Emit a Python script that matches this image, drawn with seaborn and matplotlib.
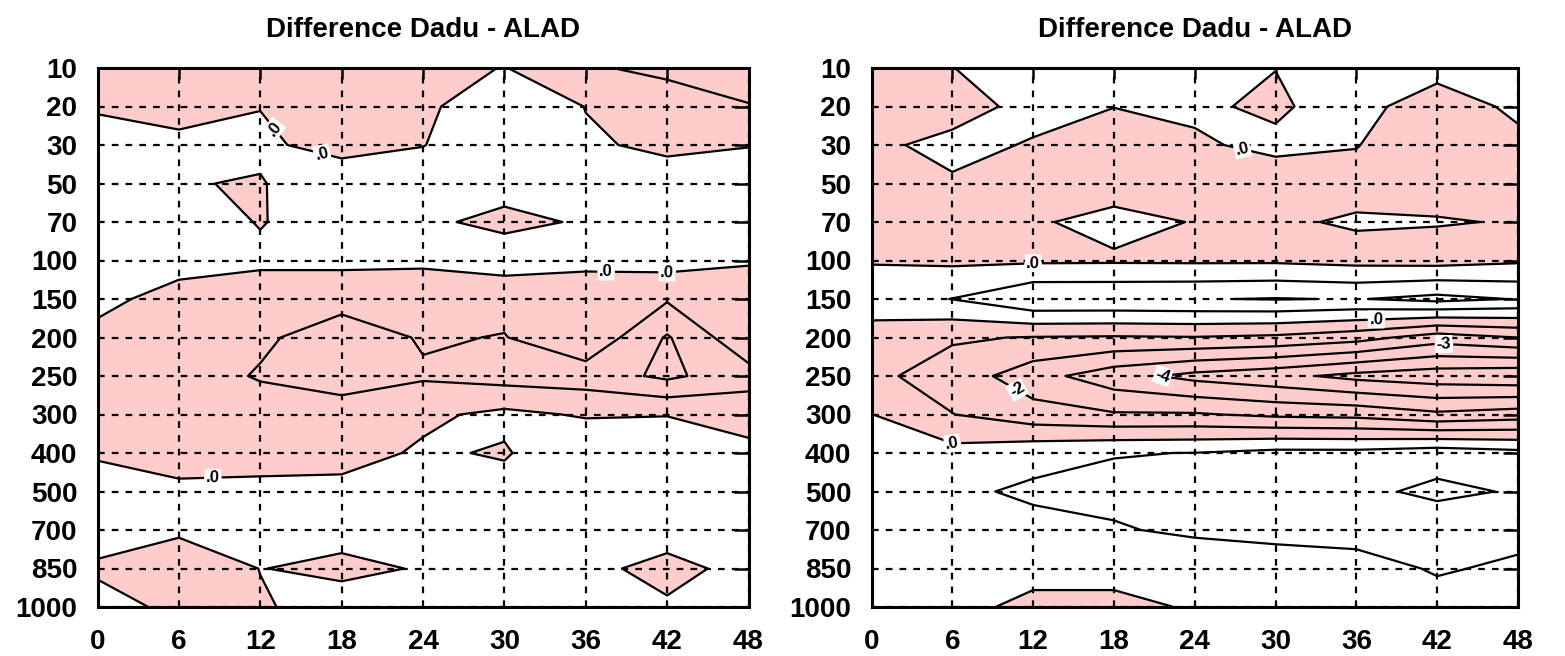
import numpy as np
import matplotlib
matplotlib.use("Agg")
import matplotlib.pyplot as plt
import seaborn as sns

# ---------------- data ----------------
hours = [0, 6, 12, 18, 24, 30, 36, 42, 48]
pressure_levels = [10, 20, 30, 50, 70, 100, 150, 200, 250, 300, 400, 500, 700, 850, 1000]
title_text = "Difference Dadu - ALAD"

# rows = pressure levels (top to bottom), columns = forecast hours
diff_left = [
    [-0.30, -0.40, -0.30, -0.30, -0.20, 0.02, -0.45, -0.60, -0.70],
    [-0.10, -0.15, -0.02, -0.40, -0.20, 0.70, -0.02, -0.27, -0.48],
    [0.40, 0.10, 0.15, -0.30, -0.02, 0.50, 0.10, -0.15, -0.02],
    [0.40, 0.04, -0.05, 0.56, 0.40, 0.15, 0.30, 0.35, 0.30],
    [0.30, 0.30, -0.03, 0.30, 0.07, -0.10, 0.04, 0.30, 0.30],
    [0.30, 0.14, 0.12, 0.10, 0.08, 0.23, 0.12, 0.20, 0.07],
    [0.10, -0.14, -0.36, -0.30, -0.30, -0.35, -0.30, -0.45, -0.45],
    [-0.10, -0.30, -0.40, -0.80, -0.45, -0.52, -0.10, -1.05, -0.10],
    [-0.20, -0.22, -0.55, -0.70, -0.56, -0.70, -0.75, -1.10, -0.70],
    [-0.30, -0.30, -0.20, -0.30, -0.10, 0.12, -0.05, -0.02, -0.20],
    [-0.05, -0.20, -0.20, -0.20, 0.07, -0.05, 0.45, 0.40, 0.13],
    [0.20, 0.10, 0.13, 0.16, 0.30, 0.20, 0.30, 0.30, 0.30],
    [0.30, 0.10, 0.30, 0.15, 0.30, 0.30, 0.30, 0.225, 0.30],
    [-0.10, -0.40, 0.01, -0.10, 0.03, 0.30, 0.12, -0.15, 0.15],
    [0.25, -0.15, -0.05, 0.20, 0.30, 0.30, 0.30, 0.064, 0.30],
]

diff_right = [
    [-0.30, -0.01, 0.30, 0.40, 0.30, 0.005, 0.30, 0.20, 0.30],
    [-0.30, -0.30, 0.22, 0.01, 0.05, -0.057, 0.186, -0.30, 0.117],
    [-0.145, 0.20, -0.055, -0.30, -0.04, 0.07, 0.03, -0.57, -0.143],
    [-0.30, -0.086, -0.40, -0.45, -0.40, -0.16, -0.27, -0.31, -0.40],
    [-0.40, -0.40, -0.109, 0.30, -0.04, -0.11, 0.09, 0.05, -0.044],
    [-0.06, -0.18, -0.15, -0.129, -0.15, -0.15, -0.30, -0.37, -0.15],
    [0.50, 1.02, 1.90, 1.90, 1.95, 2.05, 1.95, 2.30, 1.95],
    [-0.40, -0.90, -1.05, -1.10, -1.05, -1.20, -1.60, -2.50, -2.00],
    [-0.80, -1.40, -2.60, -3.60, -4.30, -4.70, -5.30, -5.60, -5.80],
    [0.02, -0.98, -1.60, -1.90, -1.90, -2.20, -2.30, -2.80, -2.50],
    [0.50, 0.33, 0.70, 0.95, 1.02, 1.30, 1.30, 1.60, 1.30],
    [0.60, 0.83, 1.15, 1.30, 1.50, 1.60, 1.79, 2.20, 1.92],
    [0.50, 0.60, 0.72, 0.90, 1.20, 1.30, 1.40, 1.40, 1.30],
    [0.50, 0.50, 0.255, 0.255, 0.20, 0.49, 0.60, 1.10, 0.83],
    [0.50, 0.23, -0.20, -0.20, 0.07, 0.50, 0.50, 0.60, 0.60],
]

left_levels = [-1.0, -0.5, 0.0]
right_levels = [-5, -4, -3, -2, -1, 0, 1, 2]

# label anchor points (hour, level index)
left_label_pos = [(13.3, 1.5), (16.5, 2.3), (37.5, 5.3), (42.0, 5.3), (8.5, 10.65)]
right_label_pos = [(27.5, 2.15), (12.0, 5.1), (37.5, 6.55), (21.6, 7.95), (42.5, 7.15),
                   (10.5, 8.55), (6.0, 9.75)]

# ---------------- style ----------------
sns.set_theme(style="white")
plt.rcParams["font.family"] = ["Liberation Sans", "DejaVu Sans"]
plt.rcParams["font.weight"] = "bold"

PINK = "#ffcccc"

fig = plt.figure(figsize=(15.65, 6.56), dpi=100)
W, H = 1565.0, 656.0
ax1 = fig.add_axes([97.5 / W, 1 - 607 / H, 651 / W, 539 / H])
ax2 = fig.add_axes([871.5 / W, 1 - 607 / H, 646.5 / W, 539 / H])


def fmt_label(v):
    if abs(v) < 1e-9:
        return ".0"
    s = ("%g" % v)
    s = s.replace("0.", ".")
    return s


def draw(ax, Z, levels, label_pos):
    Z = np.array(Z, dtype=float)
    X, Y = np.meshgrid(hours, np.arange(len(pressure_levels)))
    ax.contourf(X, Y, Z, levels=[-50, 0], colors=[PINK], zorder=1)
    cs = ax.contour(X, Y, Z, levels=levels, colors="black",
                    linewidths=1.6, linestyles="solid", zorder=2)
    texts = ax.clabel(cs, manual=label_pos, fmt=fmt_label, inline=True,
                      inline_spacing=2, fontsize=12)
    for t in texts:
        t.set_fontweight("bold")
        t.set_color("black")
        t.set_bbox(dict(boxstyle="square,pad=0.08", fc="white", ec="none"))
        t.set_zorder(5)

    ax.set_xlim(0, 48)
    ax.set_ylim(len(pressure_levels) - 1, 0)
    ax.set_xticks(hours)
    ax.set_xticklabels([str(h) for h in hours])
    ax.set_yticks(np.arange(len(pressure_levels)))
    ax.set_yticklabels([str(p) for p in pressure_levels])
    ax.set_axisbelow(False)
    ax.grid(True, color="black", linestyle=(0, (3.0, 3.2)), linewidth=1.6)
    ax.tick_params(axis="both", direction="in", top=True, right=True,
                   width=1.8, color="black", labelsize=20, labelcolor="black")
    ax.tick_params(axis="y", length=11, pad=14.5)
    ax.tick_params(axis="x", length=8, pad=16)
    for lab in ax.get_xticklabels() + ax.get_yticklabels():
        lab.set_fontweight("bold")
    for s in ax.spines.values():
        s.set_visible(True)
        s.set_color("black")
        s.set_linewidth(2.2)
        s.set_zorder(6)
    ax.set_title(title_text, fontsize=20, fontweight="bold", pad=22, color="black")
    ax.set_facecolor("white")


draw(ax1, diff_left, left_levels, left_label_pos)
draw(ax2, diff_right, right_levels, right_label_pos)

fig.savefig("out.png", dpi=100, facecolor="white")
